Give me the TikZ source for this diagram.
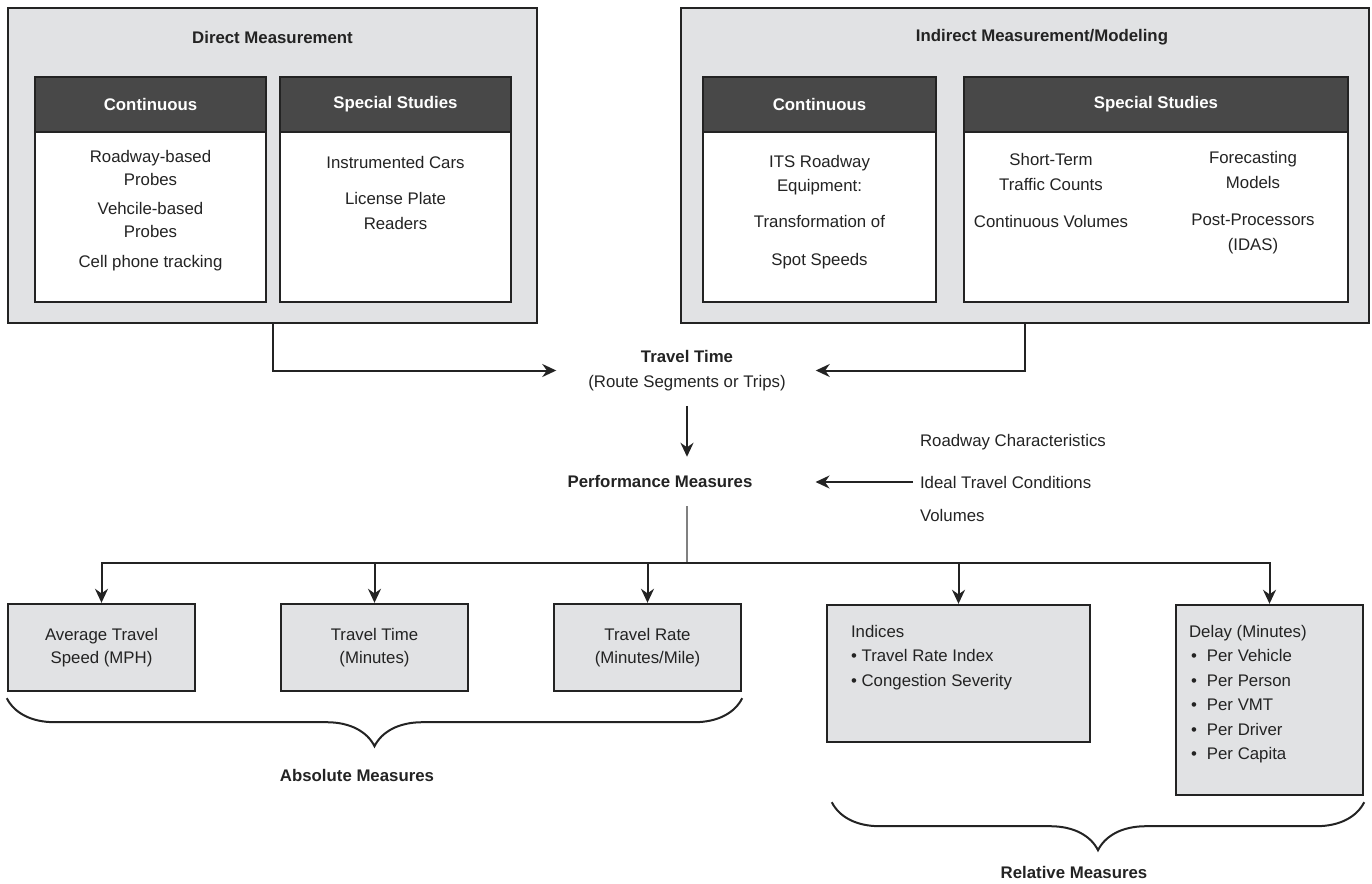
\documentclass[tikz,border=0pt]{standalone}
\usepackage{fontspec}
\setmainfont{Liberation Sans}
\usetikzlibrary{arrows.meta,decorations.pathreplacing}
\definecolor{panelgray}{RGB}{225,226,228}
\definecolor{headgray}{RGB}{72,72,72}
\definecolor{inkgray}{RGB}{35,35,35}
\newcommand{\dbul}{\hspace*{1pt}\textbullet\hspace{5pt}}
\tikzset{
  every node/.style={font=\fontsize{8.4}{11.5}\selectfont,text=inkgray},
  panel/.style={draw=inkgray,fill=panelgray,line width=1.1pt,minimum height=157.5pt},
  subbox/.style={draw=inkgray,fill=white,line width=1.1pt,minimum height=112.5pt},
  subhead/.style={draw=inkgray,fill=headgray,line width=1.1pt,minimum height=27.5pt,
    text=white,font=\fontsize{8.4}{11.5}\selectfont\bfseries,anchor=north},
  measure/.style={draw=inkgray,fill=panelgray,line width=1.2pt,align=center},
  headline/.style={font=\fontsize{8.4}{11.5}\selectfont\bfseries},
  arr/.style={draw=inkgray,line width=1pt,-{Stealth[length=7pt,width=6.5pt]}},
  brc/.style={draw=inkgray,line width=1pt,decorate,decoration={brace,mirror,amplitude=24pt}}
}
\begin{document}
\begin{tikzpicture}[x=0.5pt,y=-0.5pt]
\useasboundingbox (0,0) rectangle (1372,884);
% measurement panels
\node[panel,minimum width=264.5pt] (direct) at (272.5,165.5) {};
\node[panel,minimum width=344pt] (indirect) at (1025,165.5) {};
\node[headline] (directt) at (272.5,37) {Direct Measurement};
\node[headline] (indirectt) at (1042,37) {Indirect Measurement/Modeling};

\node[subbox,minimum width=115.5pt] (dcont) at (150.5,189.5) {};
\node[subhead,minimum width=115.5pt] (dconth) at (dcont.north) {Continuous};
\node[subbox,minimum width=115.5pt] (dspec) at (395.5,189.5) {};
\node[subhead,minimum width=115.5pt] (dspech) at (dspec.north) {Special Studies};
\node[subbox,minimum width=116.5pt] (icont) at (819.5,189.5) {};
\node[subhead,minimum width=116.5pt] (iconth) at (icont.north) {Continuous};
\node[subbox,minimum width=192pt] (ispec) at (1156,189.5) {};
\node[subhead,minimum width=192pt] (ispech) at (ispec.north) {Special Studies};

\node[align=center] (dcontt) at (150.5,211) {Roadway-based\\Probes\\[3pt]Vehcile-based\\Probes\\[3.5pt]Cell phone tracking};
\node[align=center] (dspect) at (395.5,193) {Instrumented Cars\\[6.5pt]License Plate\\[1pt]Readers};
\node[align=center] (icontt) at (819.5,212) {ITS Roadway\\[0.5pt]Equipment:\\[6.5pt]Transformation of\\[7.5pt]Spot Speeds};
\node[align=center] (ispecl) at (1051,190) {Short-Term\\[1pt]Traffic Counts\\[7pt]Continuous Volumes};
\node[align=center] (ispecr) at (1253,203) {Forecasting\\[1pt]Models\\[7pt]Post-Processors\\[1pt](IDAS)};

% travel time and performance measures
\node[align=center,font=\fontsize{8.4}{12.5}\selectfont] (tt) at (687,370.5) {\textbf{Travel Time}\\(Route Segments or Trips)};
\node[headline] (pm) at (660,481) {Performance Measures};
\node[anchor=west] (inroad) at (913,442) {Roadway Characteristics};
\node[anchor=west] (inideal) at (913,482) {Ideal Travel Conditions};
\node[anchor=west] (invol) at (913,515) {Volumes};

\draw[arr] (direct.south) |- ([xshift=-12.5pt]tt.west);
\draw[arr] (indirect.south) |- ([xshift=11.5pt]tt.east);
\draw[arr,shorten <=4pt] (tt.south) -- ([yshift=5.5pt]tt.south |- pm.north);
\draw[arr] (inideal.west) -- ([xshift=28pt]pm.east |- inideal.west);

% measures
\node[measure,minimum width=93.5pt,minimum height=43.5pt] (avgspd) at (101.5,647.5) {Average Travel\\Speed (MPH)};
\node[measure,minimum width=93.5pt,minimum height=43.5pt] (trvtime) at (374.5,647.5) {Travel Time\\(Minutes)};
\node[measure,minimum width=93.5pt,minimum height=43.5pt] (trvrate) at (647.5,647.5) {Travel Rate\\(Minutes/Mile)};
\node[measure,minimum width=131.5pt,minimum height=68.5pt] (indices) at (958.5,673.5) {};
\node[measure,minimum width=93.5pt,minimum height=95pt] (delay) at (1269.5,700) {};
\node[anchor=north west,align=left,font=\fontsize{8.4}{12.25}\selectfont] (indicest) at (844,618)
  {Indices\\\textbullet\ Travel Rate Index\\\textbullet\ Congestion Severity};
\node[anchor=north west,align=left,font=\fontsize{8.4}{12.25}\selectfont] (delayt) at (1182,618)
  {Delay (Minutes)\\\dbul Per Vehicle\\\dbul Per Person\\\dbul Per VMT\\\dbul Per Driver\\\dbul Per Capita};

\coordinate (bus) at (687,563);
\draw[draw=gray,line width=0.6pt,shorten <=6pt] (tt.south |- pm.south) -- (bus);
\foreach \b in {avgspd,trvtime,trvrate,indices,delay}
  \draw[arr] (bus) -| (\b.north);

% braces
\draw[brc] ([yshift=-3pt]avgspd.south west) -- ([yshift=-3pt]trvrate.south east);
\draw[brc] ([xshift=3pt,yshift=-3pt]indices.west |- delay.south) -- ([yshift=-3pt]delay.south east);
\node[headline] (absm) at (357,775) {Absolute Measures};
\node[headline] (relm) at (1074,872) {Relative Measures};
\end{tikzpicture}
\end{document}
